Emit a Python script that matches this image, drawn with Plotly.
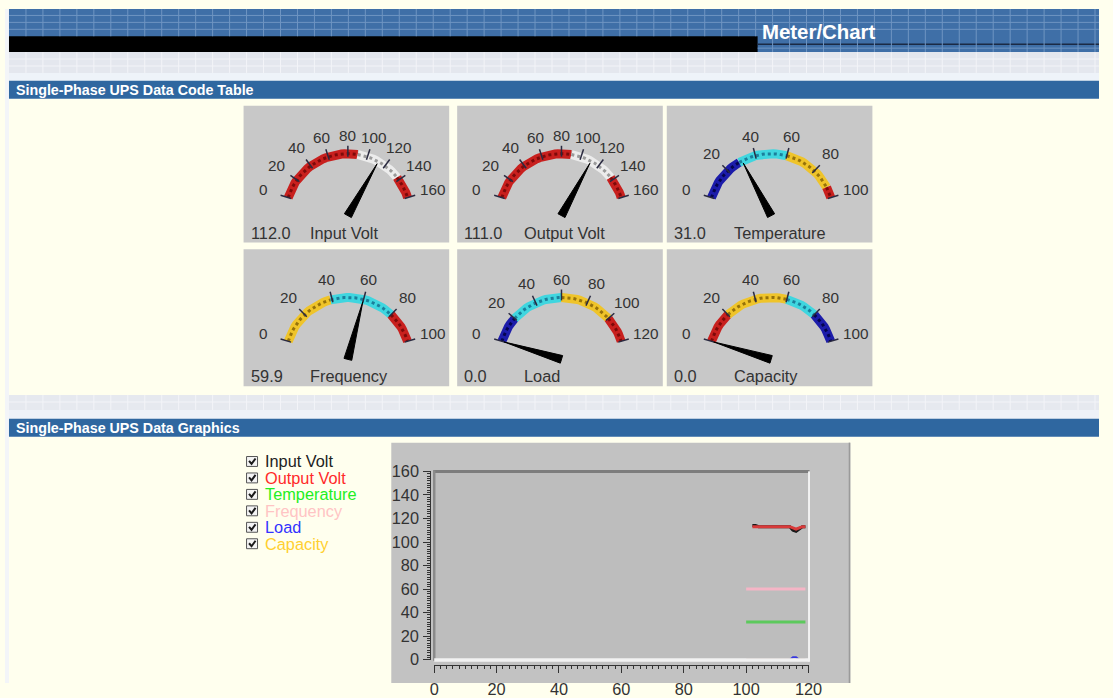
import math
import plotly.graph_objects as go

W, H = 1113, 698

# ------------------------------------------------------------------ data
gauge_names = ["Input Volt", "Output Volt", "Temperature", "Frequency", "Load", "Capacity"]
gauge_values = [112.0, 111.0, 31.0, 59.9, 0.0, 0.0]
gauge_max = [160, 160, 100, 100, 120, 100]
gauge_ticks = [
    [0, 20, 40, 60, 80, 100, 120, 140, 160],
    [0, 20, 40, 60, 80, 100, 120, 140, 160],
    [0, 20, 40, 60, 80, 100],
    [0, 20, 40, 60, 80, 100],
    [0, 20, 40, 60, 80, 100, 120],
    [0, 20, 40, 60, 80, 100],
]
gauge_bands = [
    [(0, 90, "red"), (90, 137, "white"), (137, 160, "red")],
    [(0, 90, "red"), (90, 137, "white"), (137, 160, "red")],
    [(0, 29, "blue"), (29, 60, "cyan"), (60, 93, "yellow"), (93, 100, "red")],
    [(0, 39, "yellow"), (39, 80, "cyan"), (80, 100, "red")],
    [(0, 20, "blue"), (20, 60, "cyan"), (60, 100, "yellow"), (100, 120, "red")],
    [(0, 20, "red"), (20, 60, "yellow"), (60, 80, "cyan"), (80, 100, "blue")],
]

series_names = ["Input Volt", "Output Volt", "Temperature", "Frequency", "Load", "Capacity"]
time_x = [100, 101, 102, 103, 104, 105, 106, 107, 108, 109,
          110, 111, 112, 113, 114, 115, 116, 117, 118, 119]
input_volt = [None, None, 114, 114, 113, 113, 113, 113, 113, 113,
              113, 113, 113, 113, 113, 110, 109, 111, 113, 113]
output_volt = [None, None, 113, 113, 113, 113, 113, 113, 113, 113,
               113, 113, 113, 113, 113, 112, 111, 112, 113, 113]
temperature = [32, 32, 32, 32, 32, 32, 32, 32, 32, 32,
               32, 32, 32, 32, 32, 32, 32, 32, 32, 32]
frequency = [60, 60, 60, 60, 60, 60, 60, 60, 60, 60,
             60, 60, 60, 60, 60, 60, 60, 60, 60, 60]
load = [0, 0, 0, 0, 0, 0, 0, 0, 0, 0,
        0, 0, 0, 0, 0, 2, 2, 0, 0, 0]
capacity = [0, 0, 0, 0, 0, 0, 0, 0, 0, 0,
            0, 0, 0, 0, 0, 0, 0, 0, 0, 0]
series_data = [input_volt, output_volt, temperature, frequency, load, capacity]

chart_x_ticks = [0, 20, 40, 60, 80, 100, 120]
chart_y_ticks = [0, 20, 40, 60, 80, 100, 120, 140, 160]

# ------------------------------------------------------------------ page mapping
# Observed on-screen edges of the figure box in the viewer; used as the overlay
# axis ranges so that page coordinates below are screen pixels.
SX0, SX1 = 4.0, 1100.0
SY0, SY1 = 7.5, 687.5
FS = 1.02


def dom_x(px):
    return (px - SX0) / (SX1 - SX0)


def dom_y(py):
    return 1 - (py - SY0) / (SY1 - SY0)


# ------------------------------------------------------------------ styles
FONT = "Liberation Sans, Arial, sans-serif"
BAND_COL = {"red": "#c8201e", "white": "#ececec", "blue": "#1c1caa",
            "cyan": "#3fd6df", "yellow": "#efc42a"}
DASH_COL = {"red": "#7d0a0a", "white": "#9a9a9a", "blue": "#05054f",
            "cyan": "#1b7f9b", "yellow": "#96720a"}
line_colors = ["#1a1a1a", "#d83a3a", "#5cc95c", "#f5b5c6", "#3838e0", "#efc43a"]
line_widths = [3, 3, 3, 3, 2, 2]
legend_colors = ["#222222", "#ff2a2a", "#22ee22", "#ffc4c4", "#3333ff", "#ffd030"]

fig = go.Figure()
shapes = []
annotations = []


def rect(x0, y0, x1, y1, fill, layer="below", line=None):
    shapes.append(dict(type="rect", xref="x", yref="y", x0=x0, y0=y0, x1=x1, y1=y1,
                       fillcolor=fill, line=dict(width=0) if line is None else line,
                       layer=layer))


def seg(x0, y0, x1, y1, color, width, layer="above"):
    shapes.append(dict(type="line", xref="x", yref="y", x0=x0, y0=y0, x1=x1, y1=y1,
                       line=dict(color=color, width=width), layer=layer))


def text(x, y, s, size, color, xanchor="left", bold=False, family=FONT):
    annotations.append(dict(xref="x", yref="y", x=x, y=y, text=("<b>%s</b>" % s) if bold else s,
                            showarrow=False, xanchor=xanchor, yanchor="middle",
                            font=dict(size=size * FS, color=color, family=family)))


def grid_trace(xs_v, yv0, yv1, ys_h, xh0, xh1, color):
    gx, gy = [], []
    for x in xs_v:
        gx += [x, x, None]
        gy += [yv0, yv1, None]
    for y in ys_h:
        gx += [xh0, xh1, None]
        gy += [y, y, None]
    fig.add_trace(go.Scatter(x=gx, y=gy, mode="lines", xaxis="x", yaxis="y",
                             line=dict(color=color, width=1), hoverinfo="skip",
                             showlegend=False))


# ------------------------------------------------------------------ page background
rect(0, 0, W, H, "#ffffff")
rect(0, 98, W, 397, "#ffffee")
rect(0, 439, W, H, "#ffffee")
rect(0, 0, 8, H, "#f3f5f8")
# top blue band + black bar
rect(8, 7, W, 51, "#3f6fa7")
rect(8, 35, 758, 51, "#000000")
# light bands
rect(8, 51, W, 80, "#e4e7ee")
rect(8, 72, W, 80, "#eef3f9")
rect(8, 397, W, 421, "#e6e9ef")
rect(8, 412, W, 421, "#eef2f8")
# section bars
rect(8, 80, W, 98, "#2f67a0")
rect(8, 421, W, 439, "#2f67a0")

grid_trace([8 + 17 * k for k in range(1, 66) if 8 + 17 * k < 758], 7, 35,
           [14, 21, 28], 8, W, "#6f95c2")
grid_trace([8 + 17 * k for k in range(1, 66) if 8 + 17 * k > 758], 7, 51,
           [47], 758, W, "#6f95c2")
grid_trace([8 + 17 * k for k in range(1, 66)], 51, 72, [58, 65], 8, W, "#f3f4f8")
grid_trace([8 + 17 * k for k in range(1, 66)], 397, 412, [404], 8, W, "#f3f4f8")
seg(758, 43, W, 43, "#1b2a44", 1.5, layer="below")

text(760, 31, "Meter/Chart", 20, "#ffffff", bold=True)
text(13, 89.5, "Single-Phase UPS Data Code Table", 14, "#ffffff", bold=True)
text(13, 430.5, "Single-Phase UPS Data Graphics", 14, "#ffffff", bold=True)

# ------------------------------------------------------------------ gauges
col_x = [243, 457, 667]
row_y = [105, 250]
PW, PH = 206, 138
R = 62.5
A0, SWEEP = 163.0, 146.0

for i, name in enumerate(gauge_names):
    x0 = col_x[i % 3]
    y0 = row_y[i // 3]
    rect(x0, y0, x0 + PW, y0 + PH, "#c8c8c8")
    cx, cy = x0 + 104.5, y0 + 111
    vmax = gauge_max[i]

    def ang(v):
        return math.radians(A0 - v / vmax * SWEEP)

    for (a, b, c) in gauge_bands[i]:
        n = max(4, int((b - a) / vmax * 60))
        vs = [a + (b - a) * k / n for k in range(n + 1)]
        bx = [cx + R * math.cos(ang(v)) for v in vs]
        by = [cy - R * math.sin(ang(v)) for v in vs]
        fig.add_trace(go.Scatter(x=bx, y=by, mode="lines", xaxis="x", yaxis="y",
                                 line=dict(color=BAND_COL[c], width=9),
                                 hoverinfo="skip", showlegend=False))
        fig.add_trace(go.Scatter(x=bx, y=by, mode="lines", xaxis="x", yaxis="y",
                                 line=dict(color=DASH_COL[c], width=3, dash="3px,3px"),
                                 hoverinfo="skip", showlegend=False))
    # ticks
    tx, ty = [], []
    for t in gauge_ticks[i]:
        a = ang(t)
        tx += [cx + (R - 3) * math.cos(a), cx + (R + 8) * math.cos(a), None]
        ty += [cy - (R - 3) * math.sin(a), cy - (R + 8) * math.sin(a), None]
        rl = 81 + 8 * abs(math.cos(a))
        text(cx + rl * math.cos(a), cy - rl * math.sin(a), str(t), 15, "#333333",
             xanchor="center")
    fig.add_trace(go.Scatter(x=tx, y=ty, mode="lines", xaxis="x", yaxis="y",
                             line=dict(color="#2a2a40", width=1.5),
                             hoverinfo="skip", showlegend=False))
    # needle
    a = ang(gauge_values[i])
    px, py = -math.sin(a), -math.cos(a)
    nx = [cx + 4 * px, cx + 60 * math.cos(a), cx - 4 * px, cx + 4 * px]
    ny = [cy + 4 * py, cy - 60 * math.sin(a), cy - 4 * py, cy + 4 * py]
    fig.add_trace(go.Scatter(x=nx, y=ny, mode="lines", fill="toself", fillcolor="#000000",
                             xaxis="x", yaxis="y", line=dict(color="#000000", width=1),
                             hoverinfo="skip", showlegend=False))
    text(x0 + 5, y0 + 128, "%.1f" % gauge_values[i], 16, "#333333")
    text(x0 + 65, y0 + 128, name, 16, "#333333")

# ------------------------------------------------------------------ legend (checkboxes)
ck_x, ck_y = [], []
for i, name in enumerate(series_names):
    yc = 464 + 16.6 * i
    rect(246, yc - 5, 257, yc + 5, "#f4f4f4", line=dict(color="#555555", width=1))
    ck_x += [248.5, 251, 255, None]
    ck_y += [yc - 0.5, yc + 2.5, yc - 3, None]
    text(262, yc, name, 16, legend_colors[i])
fig.add_trace(go.Scatter(x=ck_x, y=ck_y, mode="lines", xaxis="x", yaxis="y",
                         line=dict(color="#1a1a1a", width=2), hoverinfo="skip",
                         showlegend=False))

# ------------------------------------------------------------------ chart panel
rect(391, 445, 851, H, "#c2c2c2")
rect(434, 474, 809, 664, "#bdbdbd")
seg(850, 445, 850, H, "#9a9a9a", 1.5, layer="below")

for i, name in enumerate(series_names):
    fig.add_trace(go.Scatter(x=time_x, y=series_data[i], mode="lines", name=name,
                             xaxis="x2", yaxis="y2",
                             line=dict(color=line_colors[i], width=line_widths[i]),
                             connectgaps=False, showlegend=False))

# 3-D borders of the plot area
seg(433, 474, 810, 474, "#7d7d7d", 3)
seg(434, 473, 434, 665, "#8a8a8a", 2.5)
seg(434, 664.3, 810, 664.3, "#f2f2f2", 3.6)
seg(809.5, 474, 809.5, 666, "#f2f2f2", 2)

axis_font = dict(size=16 * FS, color="#333333", family=FONT)
fig.update_layout(
    width=W, height=H, margin=dict(l=0, r=0, t=0, b=0),
    paper_bgcolor="#ffffee", plot_bgcolor="rgba(0,0,0,0)",
    showlegend=False, shapes=shapes, annotations=annotations,
    xaxis=dict(domain=[0, 1], range=[SX0, SX1], visible=False, fixedrange=True),
    yaxis=dict(domain=[0, 1], range=[SY1, SY0], visible=False, fixedrange=True),
    xaxis2=dict(domain=[dom_x(434), dom_x(809)], range=[0, 120], anchor="free",
                position=dom_y(669), showline=True, linecolor="#333333", linewidth=1,
                ticks="outside", ticklen=7, tickcolor="#333333", tickwidth=1,
                tickvals=chart_x_ticks, showgrid=False, zeroline=False,
                minor=dict(dtick=2, ticks="outside", ticklen=3, tickcolor="#333333"),
                tickfont=axis_font, ticklabelstandoff=3, fixedrange=True),
    yaxis2=dict(domain=[dom_y(664), dom_y(474)], range=[0, 160], anchor="free",
                position=dom_x(430), showline=True, linecolor="#333333", linewidth=1,
                ticks="outside", ticklen=7, tickcolor="#333333", tickwidth=1,
                tickvals=chart_y_ticks, showgrid=False, zeroline=False,
                minor=dict(dtick=2, ticks="outside", ticklen=3, tickcolor="#333333"),
                tickfont=axis_font, ticklabelstandoff=1, fixedrange=True),
)

page_bg = ("linear-gradient(to bottom, #ffffff 0px, #ffffff 7px, #3f6fa7 7px, #3f6fa7 51px, "
           "#e4e7ee 51px, #e4e7ee 80px, #2f67a0 80px, #2f67a0 98px, #ffffee 98px, "
           "#ffffee 397px, #e6e9ef 397px, #e6e9ef 421px, #2f67a0 421px, #2f67a0 439px, "
           "#ffffee 439px, #ffffee 100%)")

fig.write_html(
    "out.html",
    config={"displayModeBar": False},
    post_script=(
        "document.documentElement.style.margin='0px';"
        "document.documentElement.style.padding='0px';"
        "document.documentElement.style.overflow='hidden';"
        "document.documentElement.style.background='" + page_bg + "';"
        "document.body.style.margin='0px';document.body.style.padding='0px';"
        "document.body.style.overflow='hidden';"
        "document.body.style.background='transparent';"
        "var gd=document.getElementsByClassName('plotly-graph-div')[0];"
        "if(gd){gd.style.position='fixed';gd.style.left='0px';gd.style.top='0px';}"
    ),
)
